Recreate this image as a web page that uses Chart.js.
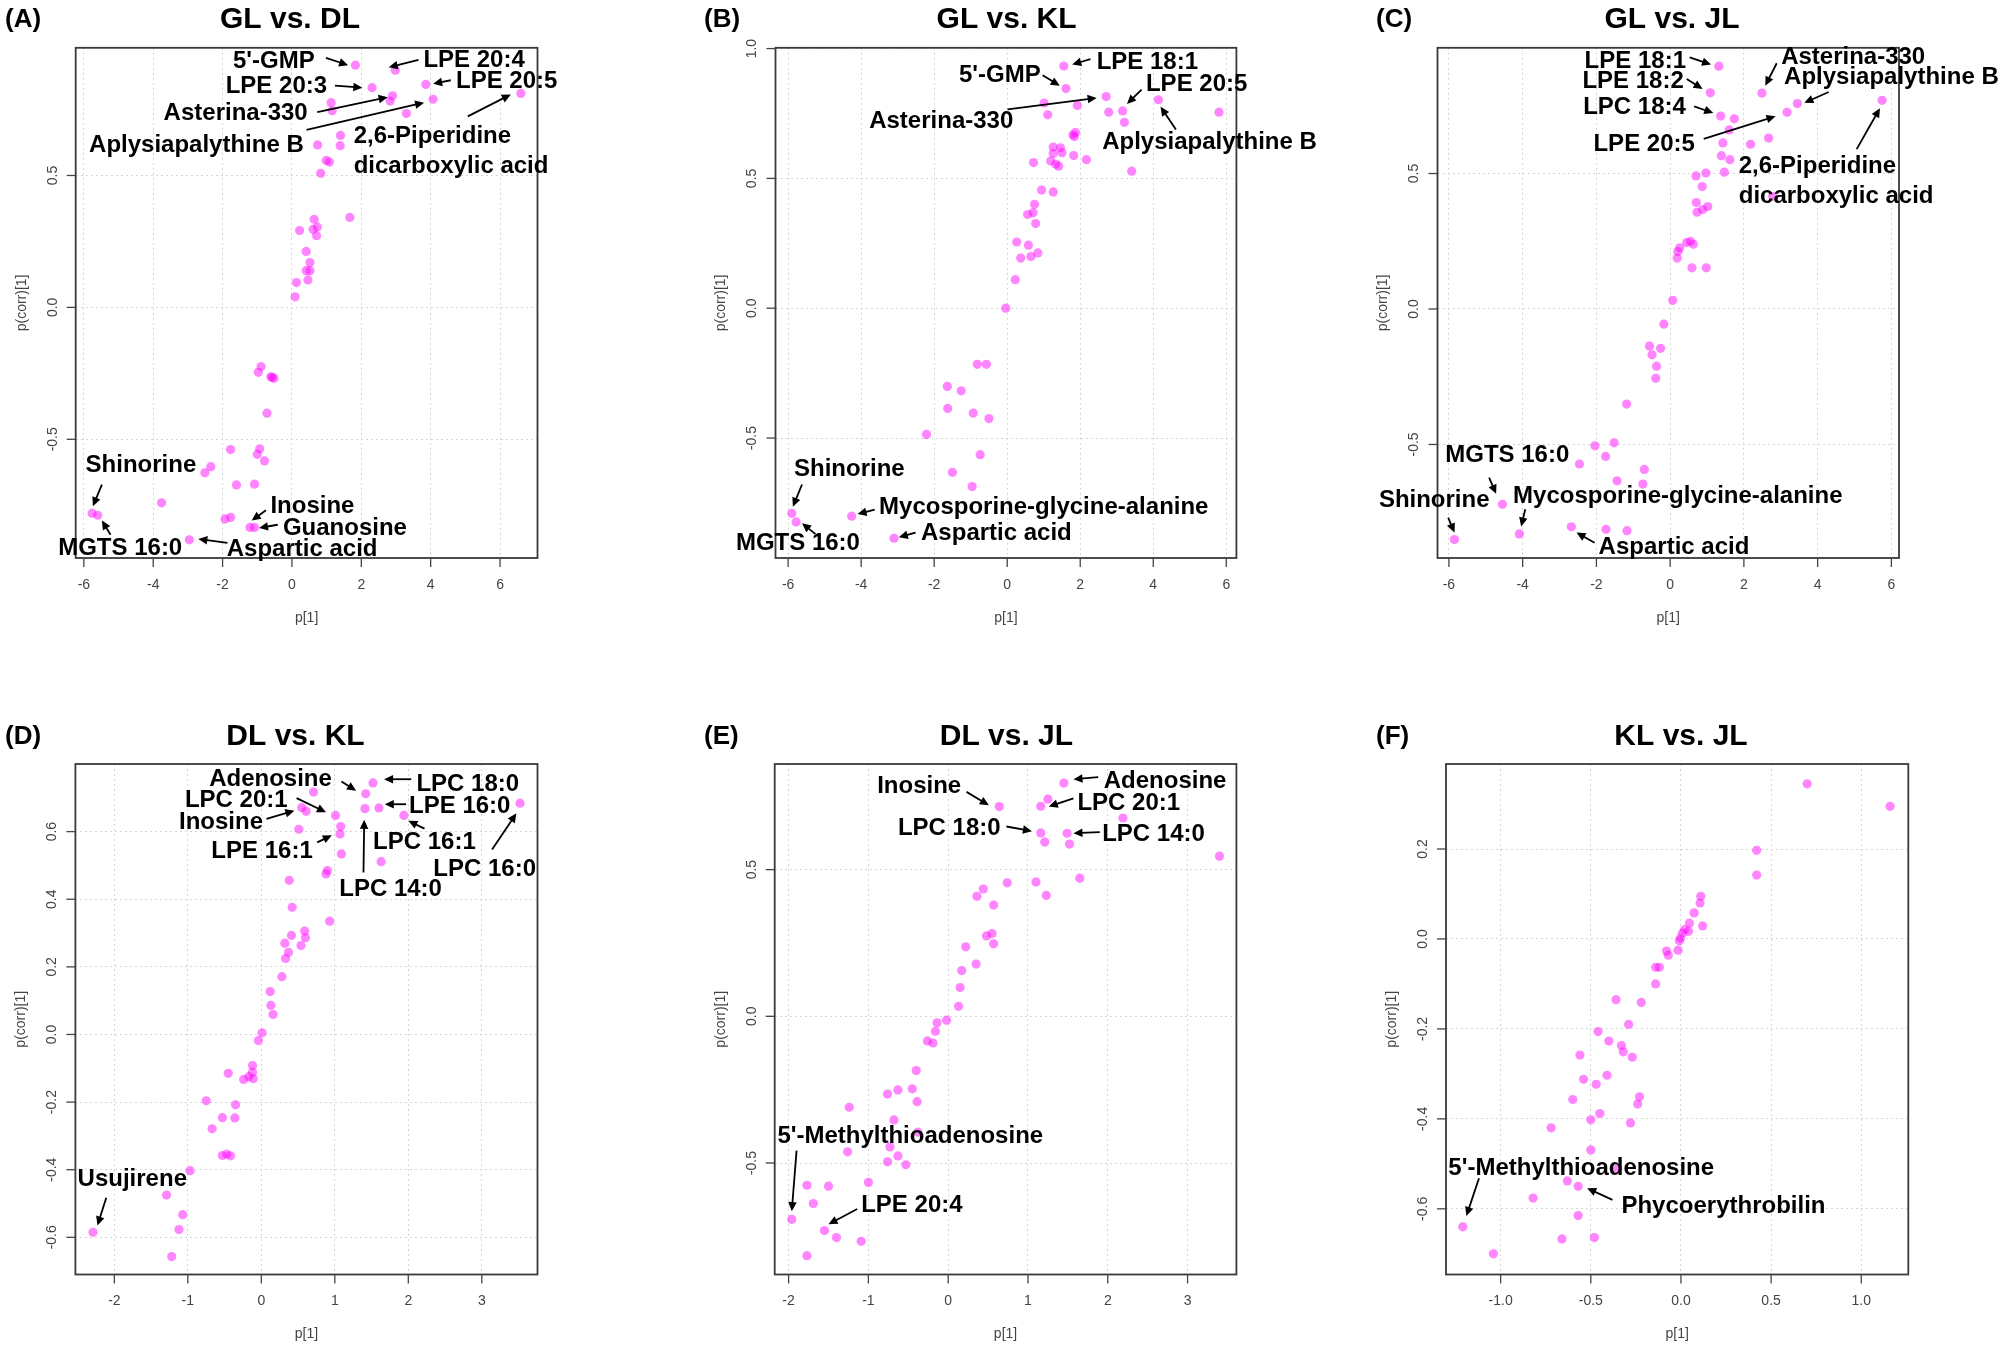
<!DOCTYPE html>
<html lang="en">
<head>
    <meta charset="UTF-8">
    <title>OPLS-DA S-plots</title>
    <script src="https://cdn.jsdelivr.net/npm/chart.js"></script>
    <style>
        body { margin: 0; background: #fff; }
        #wrap { position: relative; width: 2005px; height: 1347px; }
        #wrap canvas { position: absolute; }
    </style>
</head>
<body>
    <div id="wrap"></div>

    <script>
        // ---- data: p[1] (x) and p(corr)[1] (y) per comparison ----
        const glDlX = [1.83,2.98,2.31,3.86,2.90,2.83,4.07,6.60,1.13,1.16,3.30,1.40,1.39,0.74,0.99,1.08,0.83,1.67,0.64,0.22,0.61,0.73,0.71,0.41,0.52,0.41,0.52,0.46,0.13,0.09,-0.89,-0.97,-0.61,-0.52,-0.57,-0.72,-1.77,-0.93,-1.00,-0.79,-2.34,-2.51,-1.60,-1.08,-3.76,-5.76,-5.60,-1.93,-1.77,-1.21,-1.08,-2.96];
        const glDlY = [0.918,0.899,0.833,0.845,0.802,0.782,0.789,0.811,0.776,0.745,0.735,0.652,0.613,0.616,0.557,0.551,0.508,0.341,0.334,0.291,0.296,0.305,0.272,0.212,0.170,0.139,0.139,0.104,0.094,0.040,-0.224,-0.246,-0.263,-0.269,-0.265,-0.401,-0.539,-0.536,-0.557,-0.582,-0.604,-0.627,-0.673,-0.670,-0.741,-0.780,-0.788,-0.802,-0.796,-0.834,-0.834,-0.881];

        const glKlX = [1.55,1.61,2.71,3.16,4.14,5.80,1.01,1.92,1.11,2.78,3.21,1.87,1.84,1.80,1.26,1.46,1.26,1.50,1.82,1.19,2.17,0.72,1.33,1.41,3.41,0.94,1.26,0.75,0.56,0.71,0.78,0.26,0.58,0.37,0.65,0.84,0.22,-0.04,-0.82,-0.57,-1.64,-1.26,-1.63,-0.93,-0.50,-2.21,-0.74,-1.50,-0.96,-5.90,-5.78,-4.26,-3.10];
        const glKlY = [0.933,0.846,0.815,0.760,0.803,0.755,0.790,0.781,0.745,0.755,0.716,0.677,0.661,0.668,0.621,0.618,0.596,0.599,0.588,0.567,0.572,0.561,0.555,0.547,0.528,0.455,0.448,0.400,0.361,0.368,0.326,0.255,0.243,0.193,0.199,0.213,0.110,0,-0.216,-0.216,-0.301,-0.318,-0.386,-0.404,-0.425,-0.486,-0.564,-0.632,-0.687,-0.790,-0.823,-0.801,-0.886];

        const glJlX = [1.32,1.09,2.49,3.45,5.75,3.17,1.37,1.74,1.60,2.67,1.43,2.18,1.39,1.62,1.47,0.97,0.70,0.87,2.78,0.71,1.02,0.73,0.88,0.55,0.45,0.63,0.26,0.21,0.19,0.59,0.98,0.07,-0.17,-0.56,-0.26,-0.49,-0.37,-0.39,-1.18,-1.52,-2.04,-1.75,-2.46,-0.70,-1.44,-0.74,-4.55,-4.09,-5.85,-2.68,-1.74,-1.17];
        const glJlY = [0.896,0.798,0.797,0.758,0.770,0.726,0.712,0.702,0.661,0.631,0.613,0.608,0.566,0.551,0.505,0.502,0.491,0.452,0.416,0.393,0.378,0.357,0.367,0.250,0.245,0.239,0.226,0.212,0.188,0.152,0.152,0.032,-0.056,-0.137,-0.145,-0.169,-0.211,-0.256,-0.351,-0.494,-0.505,-0.544,-0.572,-0.592,-0.634,-0.646,-0.721,-0.830,-0.851,-0.804,-0.813,-0.818];

        const dlKlX = [1.52,0.71,1.42,3.52,1.01,1.41,1.60,1.94,0.55,0.61,1.08,1.07,0.51,1.09,1.63,0.90,0.88,0.38,0.42,0.93,0.59,0.60,0.41,0.32,0.54,0.37,0.33,0.28,0.12,0.13,0.16,0.01,-0.04,-0.12,-0.12,-0.17,-0.11,-0.24,-0.45,-0.75,-0.35,-0.53,-0.36,-0.67,-0.53,-0.47,-0.42,-0.97,-1.29,-1.07,-1.12,-2.29,-1.22];
        const dlKlY = [0.744,0.717,0.712,0.684,0.648,0.668,0.670,0.648,0.671,0.660,0.615,0.593,0.607,0.534,0.511,0.485,0.475,0.456,0.376,0.335,0.306,0.286,0.293,0.270,0.263,0.243,0.225,0.171,0.127,0.086,0.059,0.005,-0.018,-0.092,-0.112,-0.125,-0.131,-0.133,-0.115,-0.196,-0.208,-0.246,-0.247,-0.279,-0.358,-0.354,-0.359,-0.403,-0.475,-0.533,-0.577,-0.585,-0.657];

        const dlJlX = [1.45,1.25,1.16,0.64,2.19,1.16,1.49,1.21,1.52,3.40,1.65,0.74,1.10,1.23,0.44,0.36,0.57,0.55,0.48,0.57,0.22,0.35,0.17,0.15,0.13,-0.02,-0.14,-0.16,-0.26,-0.19,-0.40,-0.45,-0.63,-0.76,-0.39,-1.24,-0.68,-0.38,-0.73,-1.26,-0.63,-0.76,-0.53,-1.00,-1.77,-1.50,-1.69,-1.96,-1.55,-1.40,-1.09,-1.77];
        const dlJlY = [0.795,0.740,0.716,0.715,0.676,0.625,0.624,0.594,0.587,0.546,0.471,0.455,0.458,0.412,0.434,0.409,0.379,0.282,0.274,0.247,0.237,0.178,0.156,0.098,0.034,-0.013,-0.022,-0.051,-0.084,-0.091,-0.185,-0.247,-0.251,-0.265,-0.291,-0.310,-0.353,-0.395,-0.445,-0.462,-0.476,-0.496,-0.506,-0.566,-0.576,-0.579,-0.638,-0.692,-0.730,-0.754,-0.767,-0.816];

        const klJlX = [0.70,1.16,0.42,0.42,0.11,0.106,0.073,0.047,0.12,0.021,0.042,0.009,-0.002,-0.009,-0.016,-0.08,-0.07,-0.14,-0.12,-0.14,-0.36,-0.22,-0.29,-0.46,-0.40,-0.33,-0.32,-0.27,-0.56,-0.54,-0.41,-0.47,-0.60,-0.23,-0.24,-0.45,-0.50,-0.28,-0.72,-0.50,-0.35,-0.63,-0.57,-0.82,-0.57,-1.21,-0.66,-0.48,-1.04];
        const klJlY = [0.345,0.295,0.197,0.142,0.095,0.080,0.058,0.035,0.029,0.021,0.017,0.013,0.002,-0.004,-0.025,-0.027,-0.036,-0.063,-0.063,-0.100,-0.135,-0.141,-0.190,-0.206,-0.227,-0.237,-0.251,-0.263,-0.258,-0.312,-0.303,-0.323,-0.357,-0.351,-0.367,-0.388,-0.402,-0.409,-0.420,-0.469,-0.511,-0.538,-0.550,-0.576,-0.615,-0.640,-0.667,-0.664,-0.700];

        // tick values
        const ticksWide = [-6, -4, -2, 0, 2, 4, 6];
        const ticksD = [-2, -1, 0, 1, 2, 3];
        const ticksF = [-1, -0.5, 0, 0.5, 1];
        const yTicksHalf = [-0.5, 0, 0.5];
        const yTicksB = [-0.5, 0, 0.5, 1.0];
        const yTicksD = [-0.6, -0.4, -0.2, 0, 0.2, 0.4, 0.6];
        const yTicksF = [-0.6, -0.4, -0.2, 0, 0.2];

        // annotations: [text, x, y] (left edge, middle) and arrows [x1, y1, x2, y2], in data units
        const glDlLabels = [["5'-GMP",-1.70,0.933],["LPE 20:4",3.79,0.937],["LPE 20:3",-1.91,0.836],["LPE 20:5",4.73,0.856],
            ["Asterina-330",-3.70,0.735],["Aplysiapalythine B",-5.85,0.616],["2,6-Piperidine",1.78,0.647],["dicarboxylic acid",1.78,0.534],
            ["Shinorine",-5.95,-0.599],["MGTS 16:0",-6.74,-0.912],["Inosine",-0.62,-0.754],["Guanosine",-0.26,-0.839],["Aspartic acid",-1.88,-0.916]];
        const glDlArrows = [[0.98,0.946,1.62,0.918],[3.65,0.938,2.79,0.910],[1.24,0.841,2.03,0.833],[4.58,0.861,4.07,0.848],
            [0.73,0.740,2.76,0.797],[0.42,0.673,3.81,0.776],[5.07,0.724,6.31,0.807],[-5.48,-0.672,-5.74,-0.754],
            [-5.23,-0.862,-5.48,-0.808],[-0.75,-0.769,-1.16,-0.808],[-0.41,-0.824,-0.95,-0.836],[-1.86,-0.893,-2.70,-0.878]];

        const glKlLabels = [["LPE 18:1",2.45,0.948],["5'-GMP",-1.32,0.897],["Asterina-330",-3.78,0.719],["LPE 20:5",3.80,0.862],
            ["Aplysiapalythine B",2.60,0.638],["Shinorine",-5.84,-0.619],["MGTS 16:0",-7.43,-0.906],
            ["Mycosporine-glycine-alanine",-3.51,-0.768],["Aspartic acid",-2.36,-0.867]];
        const glKlArrows = [[2.28,0.959,1.78,0.939],[0.97,0.897,1.44,0.857],[0.01,0.766,2.45,0.810],[3.68,0.842,3.28,0.787],
            [4.62,0.688,4.20,0.776],[-5.62,-0.679,-5.87,-0.765],[-5.25,-0.870,-5.62,-0.828],[-3.63,-0.776,-4.10,-0.793],[-2.51,-0.864,-2.97,-0.882]];

        const glJlLabels = [["LPE 18:1",-2.32,0.914],["LPE 18:2",-2.38,0.839],["LPC 18:4",-2.36,0.744],["LPE 20:5",-2.08,0.608],
            ["Asterina-330",3.01,0.929],["Aplysiapalythine B",3.09,0.854],["2,6-Piperidine",1.86,0.526],["dicarboxylic acid",1.86,0.417],
            ["MGTS 16:0",-6.10,-0.542],["Shinorine",-7.90,-0.705],["Mycosporine-glycine-alanine",-4.26,-0.690],["Aspartic acid",-1.94,-0.878]];
        const glJlArrows = [[0.53,0.929,1.11,0.902],[0.45,0.849,0.88,0.812],[0.65,0.748,1.17,0.723],[0.91,0.628,2.86,0.711],
            [2.89,0.907,2.58,0.824],[4.30,0.801,3.64,0.761],[5.06,0.590,5.69,0.741],[-4.91,-0.622,-4.72,-0.682],
            [-6.02,-0.770,-5.85,-0.825],[-3.93,-0.739,-4.04,-0.803],[-2.05,-0.863,-2.54,-0.825]];

        const dlKlLabels = [["Adenosine",-0.71,0.755],["LPC 18:0",2.11,0.739],["LPC 20:1",-1.04,0.693],["LPE 16:0",2.01,0.675],
            ["Inosine",-1.12,0.627],["LPE 16:1",-0.68,0.543],["LPC 16:1",1.52,0.569],["LPC 14:0",1.06,0.430],["LPC 16:0",2.34,0.489],
            ["Usujirene",-2.50,-0.428]];
        const dlKlArrows = [[1.09,0.748,1.29,0.721],[2.04,0.755,1.67,0.755],[0.48,0.699,0.88,0.657],[1.97,0.681,1.68,0.681],
            [0.07,0.638,0.45,0.662],[0.76,0.568,0.96,0.589],[2.22,0.609,2.00,0.632],[1.39,0.479,1.40,0.635],[3.14,0.547,3.47,0.654],
            [-2.11,-0.483,-2.23,-0.565]];

        const dlJlLabels = [["Inosine",-0.89,0.785],["Adenosine",1.95,0.802],["LPC 20:1",1.62,0.726],["LPC 18:0",-0.63,0.642],
            ["LPC 14:0",1.93,0.619],["5'-Methylthioadenosine",-2.14,-0.409],["LPE 20:4",-1.09,-0.645]];
        const dlJlArrows = [[0.23,0.765,0.51,0.719],[1.88,0.815,1.57,0.808],[1.57,0.743,1.26,0.715],[0.73,0.647,1.05,0.631],
            [1.90,0.628,1.57,0.624],[-1.90,-0.458,-1.96,-0.664],[-1.14,-0.657,-1.50,-0.709]];

        const klJlLabels = [["5'-Methylthioadenosine",-1.29,-0.510],["Phycoerythrobilin",-0.33,-0.595]];
        const klJlArrows = [[-1.12,-0.532,-1.19,-0.616],[-0.38,-0.580,-0.52,-0.554]];

        // ---- panel layout (canvas 665x647 each) ----
        const W = 665, H = 647;
        const panels = [
            { tag: '(A)', title: 'GL vs. DL', left: 0, top: 0, box: [75.7, 47.8, 537.5, 558], xr: [-6.235, 7.08], yr: [-0.95, 0.984],
              xs: glDlX, ys: glDlY, xt: ticksWide, yt: yTicksHalf, xd: 0, labels: glDlLabels, arrows: glDlArrows,
              titleAt: [290, 20], tagAt: [5, 20] },
            { tag: '(B)', title: 'GL vs. KL', left: 680, top: 0, box: [95.5, 47.8, 556.4, 558], xr: [-6.346, 6.277], yr: [-0.962, 1.003],
              xs: glKlX, ys: glKlY, xt: ticksWide, yt: yTicksB, xd: 0, labels: glKlLabels, arrows: glKlArrows,
              titleAt: [326.6, 20], tagAt: [24, 20] },
            { tag: '(C)', title: 'GL vs. JL', left: 1340, top: 0, box: [97.5, 47.8, 559, 558], xr: [-6.31, 6.207], yr: [-0.919, 0.964],
              xs: glJlX, ys: glJlY, xt: ticksWide, yt: yTicksHalf, xd: 0, labels: glJlLabels, arrows: glJlArrows,
              titleAt: [332, 20], tagAt: [36, 20] },
            { tag: '(D)', title: 'DL vs. KL', left: 0, top: 700, box: [75.4, 64, 537.5, 574.5], xr: [-2.53, 3.758], yr: [-0.71, 0.80],
              xs: dlKlX, ys: dlKlY, xt: ticksD, yt: yTicksD, xd: 0, labels: dlKlLabels, arrows: dlKlArrows,
              titleAt: [295.5, 37], tagAt: [5, 37] },
            { tag: '(E)', title: 'DL vs. JL', left: 680, top: 700, box: [94.7, 64, 556.4, 574.5], xr: [-2.174, 3.612], yr: [-0.88, 0.86],
              xs: dlJlX, ys: dlJlY, xt: ticksD, yt: yTicksHalf, xd: 0, labels: dlJlLabels, arrows: dlJlArrows,
              titleAt: [326.4, 37], tagAt: [24, 37] },
            { tag: '(F)', title: 'KL vs. JL', left: 1340, top: 700, box: [106, 64, 568.3, 574.5], xr: [-1.303, 1.261], yr: [-0.746, 0.389],
              xs: klJlX, ys: klJlY, xt: ticksF, yt: yTicksF, xd: 1, labels: klJlLabels, arrows: klJlArrows,
              titleAt: [341, 37], tagAt: [36, 37] }
        ];

        const FONT = '"Liberation Sans", Arial, sans-serif';

        function arrow(ctx, x1, y1, x2, y2) {
            const a = Math.atan2(y2 - y1, x2 - x1);
            const len = 10, spread = 0.44;
            ctx.beginPath();
            ctx.moveTo(x1, y1);
            ctx.lineTo(x2 - Math.cos(a) * len * 0.7, y2 - Math.sin(a) * len * 0.7);
            ctx.stroke();
            ctx.beginPath();
            ctx.moveTo(x2, y2);
            ctx.lineTo(x2 - len * Math.cos(a - spread), y2 - len * Math.sin(a - spread));
            ctx.lineTo(x2 - len * Math.cos(a + spread), y2 - len * Math.sin(a + spread));
            ctx.closePath();
            ctx.fill();
        }

        function rotated(ctx, s, x, y) {
            ctx.save();
            ctx.translate(x, y);
            ctx.rotate(-Math.PI / 2);
            ctx.textAlign = 'center';
            ctx.fillText(s, 0, 0);
            ctx.restore();
        }

        // draws the R-style frame, ticks, titles and labelled arrows
        function panelPlugin(p) {
            return {
                id: 'panel',
                afterDraw(chart) {
                    const ctx = chart.ctx;
                    const area = chart.chartArea;
                    const xs = chart.scales.x, ys = chart.scales.y;
                    ctx.save();

                    // frame
                    ctx.strokeStyle = '#3a3a3a';
                    ctx.lineWidth = 1.8;
                    ctx.strokeRect(area.left, area.top, area.right - area.left, area.bottom - area.top);

                    // ticks
                    ctx.strokeStyle = '#444';
                    ctx.lineWidth = 1.3;
                    ctx.fillStyle = '#444';
                    ctx.font = '14px ' + FONT;
                    ctx.textBaseline = 'middle';
                    ctx.textAlign = 'center';
                    p.xt.forEach(v => {
                        const px = xs.getPixelForValue(v);
                        ctx.beginPath();
                        ctx.moveTo(px, area.bottom);
                        ctx.lineTo(px, area.bottom + 9);
                        ctx.stroke();
                        ctx.fillText(v.toFixed(p.xd), px, area.bottom + 27);
                    });
                    p.yt.forEach(v => {
                        const py = ys.getPixelForValue(v);
                        ctx.beginPath();
                        ctx.moveTo(area.left, py);
                        ctx.lineTo(area.left - 9, py);
                        ctx.stroke();
                        rotated(ctx, v.toFixed(1), area.left - 23, py);
                    });

                    // axis titles
                    ctx.fillText('p[1]', (area.left + area.right) / 2, area.bottom + 60);
                    rotated(ctx, 'p(corr)[1]', area.left - 54, (area.top + area.bottom) / 2);

                    // title and panel tag
                    ctx.fillStyle = '#000';
                    ctx.font = 'bold 30px ' + FONT;
                    ctx.fillText(p.title, p.titleAt[0], p.titleAt[1]);
                    ctx.font = 'bold 26px ' + FONT;
                    ctx.textAlign = 'left';
                    ctx.fillText(p.tag, p.tagAt[0], p.tagAt[1]);

                    // annotations
                    ctx.font = 'bold 24px ' + FONT;
                    p.labels.forEach(([s, x, y]) => {
                        ctx.fillText(s, xs.getPixelForValue(x), ys.getPixelForValue(y));
                    });
                    ctx.strokeStyle = '#000';
                    ctx.lineWidth = 1.8;
                    p.arrows.forEach(([x1, y1, x2, y2]) => {
                        arrow(ctx, xs.getPixelForValue(x1), ys.getPixelForValue(y1),
                            xs.getPixelForValue(x2), ys.getPixelForValue(y2));
                    });
                    ctx.restore();
                }
            };
        }

        function axis(range, ticks) {
            return {
                type: 'linear',
                min: range[0],
                max: range[1],
                afterBuildTicks: s => { s.ticks = ticks.map(v => ({ value: v })); },
                ticks: { display: false },
                grid: { color: '#d6d6d6', lineWidth: 1, drawTicks: false },
                border: { display: false, dash: [2, 3] }
            };
        }

        const wrap = document.getElementById('wrap');
        panels.forEach(p => {
            const canvas = document.createElement('canvas');
            canvas.width = W;
            canvas.height = H;
            canvas.style.left = p.left + 'px';
            canvas.style.top = p.top + 'px';
            wrap.appendChild(canvas);

            new Chart(canvas, {
                type: 'scatter',
                data: {
                    datasets: [{
                        data: p.xs.map((x, i) => ({ x: x, y: p.ys[i] })),
                        backgroundColor: 'rgba(255, 0, 255, 0.48)',
                        borderWidth: 0,
                        pointRadius: 4.6
                    }]
                },
                options: {
                    responsive: false,
                    animation: false,
                    devicePixelRatio: 1,
                    layout: { padding: { left: p.box[0], top: p.box[1], right: W - p.box[2], bottom: H - p.box[3] } },
                    plugins: { legend: { display: false }, tooltip: { enabled: false } },
                    scales: { x: axis(p.xr, p.xt), y: axis(p.yr, p.yt) }
                },
                plugins: [panelPlugin(p)]
            });
        });
    </script>
</body>
</html>
